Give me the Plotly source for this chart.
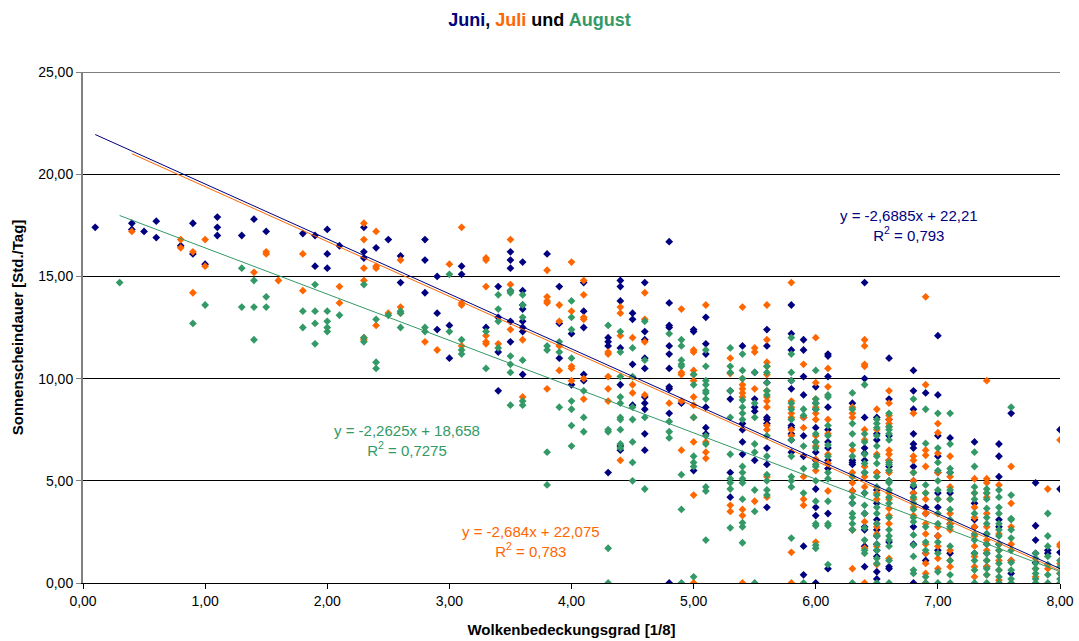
import plotly.graph_objects as go

# ---------------- data ----------------
juni_cols = [0.1, 0.4, 0.5, 0.6, 0.8, 0.9, 1.0, 1.1, 1.3, 1.4, 1.5, 1.8, 1.9, 2.0, 2.1, 2.3, 2.4, 2.5, 2.6, 2.8,
             2.9, 3.0, 3.1, 3.3, 3.4, 3.5, 3.6, 3.8, 3.9, 4.0, 4.1, 4.3, 4.4, 4.5, 4.6, 4.8, 4.9, 5.0, 5.1, 5.3,
             5.4, 5.5, 5.6, 5.8, 5.9, 6.0, 6.1, 6.3, 6.4, 6.5, 6.6, 6.8, 6.9, 7.0, 7.1, 7.3, 7.4, 7.5, 7.6, 7.8,
             7.9, 8.0]
juni_vals = [
    [17.4], [17.6, 17.3], [17.2], [17.7, 16.9], [16.5], [17.6, 16.1], [15.6], [17.9, 17.4, 17.0], [17.0], [17.8],
    [17.2], [17.1], [17.0, 15.5], [17.3, 16.1, 15.4], [16.5], [17.4, 16.2, 15.9], [16.4], [16.8], [16.0, 14.7],
    [16.8, 15.8, 14.2],
    [15.0, 13.2, 12.4], [12.6, 11.0], [15.5, 15.1], [12.5], [14.5, 13.0, 11.3, 9.4],
    [16.2, 15.8, 15.4, 14.3, 12.8, 11.8], [15.7, 14.3, 13.6, 13.4, 12.8, 12.5, 12.3, 10.2], [16.1],
    [14.5, 12.7, 11.0], [12.2, 9.7], [14.7, 13.3, 12.5, 10.2, 9.9], [12.0, 11.8, 11.6, 5.4],
    [14.8, 14.5, 13.8, 11.5, 9.7, 6.7, 6.5], [13.2, 12.9, 10.7, 8.7],
    [14.7, 12.3, 11.9, 11.0, 10.5, 9.1, 8.8, 8.5, 7.3, 6.5],
    [16.7, 13.7, 12.6, 12.5, 11.6, 11.2, 10.5, 9.6, 9.5, 8.3, 0.0], [8.8], [12.4, 12.3, 5.5],
    [13.0, 11.7, 11.2, 8.6, 7.6, 7.3], [9.4, 9.0, 5.4, 4.2],
    [11.6, 7.8, 7.5, 6.9, 6.3], [10.3, 9.0, 8.6, 8.4, 6.0], [12.4, 11.6, 9.8, 8.1, 8.0, 7.8, 6.6, 5.8, 3.7],
    [13.6, 12.2, 11.4, 9.9, 9.5, 7.7, 7.6, 7.3, 7.0, 6.4], [11.9, 11.4, 10.1, 9.2, 8.1, 7.2, 6.2, 1.8, 0.4],
    [9.6, 8.8, 8.5, 7.6, 6.9, 6.4, 6.0, 4.6, 3.7, 3.3, 0.0],
    [11.2, 11.1, 10.1, 8.6, 7.5, 6.9, 6.6, 6.0, 5.6, 3.4, 0.7], [8.8, 6.0, 5.9, 5.8, 4.5, 3.9, 2.6],
    [14.7, 10.0, 8.1, 6.6, 6.35, 6.0, 5.4, 4.4, 3.4, 2.75, 2.6, 1.8, 0.8],
    [8.1, 7.3, 7.0, 5.4, 4.55, 3.9, 3.1, 2.6, 2.3, 1.9, 1.6, 1.3, 0.55, 0.2],
    [11.0, 9.0, 8.0, 7.2, 6.0, 5.7, 5.0, 2.0, 0.8, 0.7],
    [10.4, 9.4, 8.5, 7.3, 6.8, 6.6, 5.7, 5.0, 4.7, 4.4, 2.75, 1.9, 0.0], [9.3, 3.7, 3.4, 1.45, 1.1],
    [12.1, 9.2, 7.2, 6.2, 5.4, 4.4, 3.7, 2.3, 1.6], [7.1, 5.4, 4.4, 2.9, 1.45], [6.9, 3.9, 3.1, 2.75, 1.45],
    [2.4, 1.9, 1.45, 0.8], [6.8, 6.2, 5.2, 3.1, 2.75, 1.9], [8.3, 1.1, 0.47], [4.9, 2.8, 2.1, 1.45, 1.0],
    [1.6, 1.45], [7.5, 4.6, 1.5],
]

juli_cols = [0.4, 0.8, 0.9, 1.0, 1.4, 1.5, 1.6, 1.8, 2.1, 2.3, 2.4, 2.5, 2.6, 2.8, 2.9, 3.0, 3.1, 3.3, 3.4, 3.5,
             3.6, 3.8, 3.9, 4.0, 4.1, 4.3, 4.4, 4.5, 4.6, 4.8, 4.9, 5.0, 5.1, 5.3, 5.4, 5.5, 5.6, 5.8, 5.9, 6.0,
             6.1, 6.3, 6.4, 6.5, 6.6, 6.8, 6.9, 7.0, 7.1, 7.3, 7.4, 7.5, 7.6, 7.8, 7.9, 8.0]
juli_vals = [
    [17.2], [16.8, 16.4], [16.2, 14.2], [16.8, 15.5], [15.2], [16.2, 16.1], [14.8], [16.1, 14.3], [14.5, 13.7],
    [17.6, 16.8, 15.4, 14.8, 12.0, 11.9], [17.2, 15.5, 15.4, 12.6], [13.2], [15.8, 13.5, 13.2], [11.8], [11.4],
    [15.6], [17.4, 13.7, 13.6, 11.6], [15.9, 15.8, 14.5, 12.1, 11.8, 11.7], [11.7], [16.8, 14.6, 12.4],
    [11.9, 9.1], [15.3, 14.0, 13.8, 13.7, 9.5], [13.6, 12.8, 11.6, 10.4], [15.7, 13.3, 10.6, 10.5, 9.9],
    [14.8, 14.1, 13.0, 12.9, 10.0, 9.0], [11.3, 11.2, 10.1, 9.5, 8.9], [13.5, 13.2, 12.1, 6.0], [12.0, 9.7, 9.3],
    [14.2, 12.9, 11.8, 9.2], [8.8], [13.4, 10.3, 10.2, 8.9, 6.5],
    [11.4, 11.3, 10.4, 10.2, 9.9, 9.1, 8.7, 8.1, 6.9, 4.3, 0.0], [13.6, 6.9, 6.4, 6.1], [11.0, 10.25, 3.8, 3.5],
    [13.5, 10.0, 9.7, 9.5, 9.3, 9.1, 3.6, 3.3, 0.0], [11.5, 11.3, 9.5, 4.0],
    [13.6, 11.9, 10.8, 10.6, 10.2, 9.4, 9.1, 8.9, 8.6, 7.7, 7.5, 5.2, 4.2],
    [14.7, 8.9, 8.6, 8.3, 8.1, 7.5, 7.2, 1.5, 0.0], [10.7, 8.1, 7.6, 5.2, 4.1, 3.8],
    [12.0, 9.8, 9.0, 8.6, 8.3, 8.0, 7.2, 6.7, 6.05, 5.5, 2.0], [10.5, 9.6, 8.0, 7.3, 6.3, 5.85, 4.5],
    [8.6, 8.3, 8.1, 6.5, 5.4, 4.9, 4.5, 2.6, 0.7], [11.9, 11.6, 10.7, 10.6, 7.5, 7.0, 5.7, 5.2, 4.7, 3.0, 1.7, 0.0],
    [8.5, 7.5, 6.3, 5.4, 4.4, 4.1, 2.9, 2.75, 2.4, 1.8, 0.9],
    [9.4, 8.8, 8.2, 8.0, 7.8, 7.65, 6.5, 6.3, 6.0, 5.5, 5.4, 4.4, 4.1, 3.65, 3.3, 2.9, 1.2],
    [8.3, 6.2, 6.0, 5.4, 5.0, 4.4, 4.1, 3.7, 3.3],
    [14.0, 9.7, 6.5, 6.25, 5.7, 4.4, 4.1, 3.4, 2.9, 2.4, 1.9, 1.45, 0.96, 0.47, 0.0],
    [7.8, 7.35, 6.35, 5.4, 4.1, 2.75, 2.3, 1.8, 1.2, 0.7], [6.2, 5.2, 4.7, 4.1, 3.4, 2.9, 2.6, 1.6, 1.1, 0.8],
    [5.1, 4.4, 3.7, 3.2, 2.75, 2.3, 1.8, 1.3, 0.8, 0.3], [9.9, 5.1, 4.9, 4.4, 4.2, 3.4, 2.75, 2.1, 1.6, 1.1, 0.8, 0.4],
    [4.8, 2.4, 1.6, 1.1, 0.63, 0.14], [5.7, 3.9, 2.75, 1.9, 1.1], [0.7, 0.3], [4.6, 0.7],
    [7.0, 1.9, 1.8, 0.96, 0.47],
]

august_cols = [0.3, 0.9, 1.0, 1.3, 1.4, 1.5, 1.8, 1.9, 2.0, 2.1, 2.3, 2.4, 2.5, 2.6, 2.8, 3.0, 3.1, 3.3, 3.4, 3.5,
               3.6, 3.8, 3.9, 4.0, 4.1, 4.3, 4.4, 4.5, 4.6, 4.8, 4.9, 5.0, 5.1, 5.3, 5.4, 5.5, 5.6, 5.8, 5.9, 6.0,
               6.1, 6.3, 6.4, 6.5, 6.6, 6.8, 6.9, 7.0, 7.1, 7.3, 7.4, 7.5, 7.6, 7.8, 7.9, 8.0]
august_vals = [
    [14.7], [12.7], [13.6], [15.4, 13.5], [14.8, 13.5, 11.9], [14.0, 13.5], [13.3, 12.5], [14.6, 13.3, 12.7, 11.7],
    [13.3, 12.8, 12.5, 12.3], [13.1], [14.6, 12.0, 11.8], [12.9, 10.8, 10.5], [13.1], [13.3, 13.2, 12.5],
    [12.5, 12.3], [15.1, 12.3], [11.9, 11.4, 11.2], [12.3, 10.5], [14.1, 13.4, 12.8, 11.5],
    [14.3, 14.2, 11.1, 10.7, 10.3, 8.7], [14.1, 13.6, 13.0, 10.9, 8.9, 8.7], [11.6, 11.4, 6.4, 4.8],
    [11.8, 11.3, 8.6], [13.8, 13.0, 12.4, 11.0, 8.9, 8.5, 7.7, 6.7], [9.4, 8.1, 7.4], [12.6, 7.5, 7.4, 1.7, 0.0],
    [12.3, 11.3, 10.1, 9.1, 8.8, 8.1, 8.0, 7.5, 6.8, 6.6], [11.5, 10.1, 8.6, 8.0, 6.9, 5.9, 5.0],
    [12.8, 10.9, 8.1, 4.6], [12.2, 7.9, 7.4, 7.1], [11.9, 11.6, 10.9, 10.7, 10.6, 5.3, 3.6, 0.0],
    [10.2, 9.7, 8.1, 6.2, 5.9, 5.7, 0.3], [11.4, 10.6, 9.9, 9.7, 9.4, 9.3, 9.0, 7.2, 6.8, 4.7, 4.5, 2.1],
    [11.5, 10.6, 10.3, 9.4, 8.1, 6.3, 5.1, 4.9, 4.6, 2.7],
    [11.2, 10.4, 10.0, 8.95, 8.6, 8.3, 8.0, 5.7, 5.4, 5.1, 4.9, 4.1, 2.95, 2.75, 1.97],
    [10.3, 8.8, 8.1, 6.8, 6.4, 4.55, 3.5, 0.0], [10.6, 10.3, 9.8, 9.4, 9.2, 7.2, 6.2, 5.3, 5.0, 4.55, 4.3],
    [12.0, 11.2, 10.3, 9.9, 8.8, 8.5, 8.0, 7.0, 6.2, 5.2, 5.0, 4.7, 2.2], [8.5, 8.2, 6.7, 5.6, 4.4, 0.0],
    [10.4, 9.0, 8.8, 8.5, 7.3, 6.9, 6.6, 5.8, 5.7, 5.0, 4.0, 2.9, 2.8, 1.85, 1.7],
    [9.2, 9.1, 7.7, 7.2, 6.75, 6.2, 5.4, 5.1, 4.0, 2.9, 2.8, 0.9],
    [9.3, 8.5, 7.8, 7.3, 6.75, 6.2, 5.2, 4.2, 3.9, 3.4, 3.2, 2.9, 2.6, 0.0],
    [9.7, 7.3, 6.9, 6.3, 5.85, 5.4, 4.4, 3.8, 3.4, 2.7, 2.1, 1.6, 1.45],
    [8.0, 7.8, 7.6, 7.2, 6.7, 6.2, 5.85, 5.2, 4.7, 4.3, 3.7, 3.4, 2.9, 2.3, 1.9, 1.6, 1.2, 0.96, 0.0],
    [8.3, 7.65, 7.5, 7.3, 7.0, 5.9, 5.8, 5.5, 5.0, 4.9, 4.55, 4.2, 3.9, 3.2, 2.6, 2.3, 2.1, 1.8, 1.1, 0.0],
    [9.0, 5.4, 4.8, 4.2, 3.9, 3.6, 3.2, 3.0, 2.35, 1.85, 1.3, 0.63, 0.47],
    [8.5, 6.83, 4.8, 4.4, 2.75, 2.0, 1.6, 0.3, 0.0],
    [8.3, 6.6, 5.9, 5.5, 5.0, 4.55, 4.1, 3.4, 2.9, 2.0, 1.45, 0.55, 0.0],
    [8.3, 6.8, 5.6, 5.4, 4.55, 4.1, 3.6, 3.1, 2.75, 1.8, 1.1, 0.4, 0.0],
    [6.4, 5.7, 4.7, 4.4, 4.1, 3.4, 2.4, 2.1, 1.45, 1.1, 0.63, 0.0],
    [4.6, 4.4, 4.1, 3.65, 3.2, 2.9, 2.4, 1.9, 1.45, 1.1, 0.7, 0.4, 0.0],
    [4.55, 4.2, 3.7, 3.4, 2.9, 2.6, 2.3, 1.9, 1.6, 1.3, 0.96, 0.63, 0.3, 0.0],
    [8.6, 4.3, 3.15, 3.1, 2.6, 2.2, 1.6, 1.0, 0.63, 0.2, 0.0], [1.45, 1.2, 0.96, 0.7, 0.47, 0.2, 0.0],
    [3.4, 2.3, 1.8, 1.3, 0.9, 0.4, 0.0], [1.1, 0.8, 0.47, 0.2, 0.0],
]

# linear trend lines as printed on the chart: slope, intercept, x-range
trend_names = ["Juni", "Juli", "August"]
trend_slope = [-2.6885, -2.684, -2.2625]
trend_intercept = [22.21, 22.075, 18.658]
trend_xstart = [0.1, 0.4, 0.3]
trend_xend = [8.0, 8.0, 8.0]
trend_labels = ["y = -2,6885x + 22,21<br>R<sup>2</sup> = 0,793",
                "y = -2,684x + 22,075<br>R<sup>2</sup> = 0,783",
                "y = -2,2625x + 18,658<br>R<sup>2</sup> = 0,7275"]
label_pos_x = [6.76, 3.67, 2.65]
label_pos_y = [17.5, 2.05, 6.95]

x_ticks = [0, 1, 2, 3, 4, 5, 6, 7, 8]
y_ticks = [0, 5, 10, 15, 20, 25]

colors = ["#000080", "#FF6600", "#339966"]


def flatten(cols, vals):
    xs, ys = [], []
    for c, v in zip(cols, vals):
        for y in v:
            xs.append(c)
            ys.append(y)
    return xs, ys


series = [flatten(juni_cols, juni_vals), flatten(juli_cols, juli_vals), flatten(august_cols, august_vals)]

fig = go.Figure()
for (xs, ys), name, col in zip(series, trend_names, colors):
    fig.add_trace(go.Scatter(x=xs, y=ys, mode="markers", name=name,
                             marker=dict(symbol="diamond", size=6, color=col, line=dict(width=0))))

for i, col in enumerate(colors):
    xs = [trend_xstart[i], trend_xend[i]]
    ys = [trend_slope[i] * x + trend_intercept[i] for x in xs]
    fig.add_trace(go.Scatter(x=xs, y=ys, mode="lines", line=dict(color=col, width=1),
                             hoverinfo="skip", showlegend=False))
    fig.add_annotation(x=label_pos_x[i], y=label_pos_y[i], text=trend_labels[i], showarrow=False,
                       align="center", font=dict(family="Liberation Sans, Arial", size=15, color=col))

# top gridline (value of the highest y tick) that plotly omits at the range edge
fig.add_shape(type="line", xref="paper", x0=0, x1=1, yref="y", y0=y_ticks[-1], y1=y_ticks[-1],
              line=dict(color="#000000", width=1), layer="below")

title_text = ("<b><span style='color:#000080'>Juni</span>, <span style='color:#FF6600'>Juli</span> "
              "und <span style='color:#339966'>August</span></b>")

fig.update_layout(
    width=1079, height=641,
    margin=dict(l=83, r=19, t=72, b=58),
    paper_bgcolor="white", plot_bgcolor="white",
    separators=",.",
    showlegend=False,
    font=dict(family="Liberation Sans, Arial", size=14, color="#000000"),
    title=dict(text=title_text, x=0.5, xref="container", xanchor="center", y=0.97, yref="container",
               yanchor="middle", font=dict(size=18, family="Liberation Sans, Arial")),
)
fig.update_xaxes(range=[0, 8], tickvals=x_ticks, tickformat=".2f", showgrid=False, zeroline=False,
                 showline=True, linecolor="#000000", linewidth=1, ticks="outside", ticklen=5,
                 tickcolor="#000000", tickfont=dict(size=14), automargin=False,
                 title=dict(text="<b>Wolkenbedeckungsgrad [1/8]</b>", font=dict(size=15), standoff=16))
fig.update_yaxes(range=[0, 25], tickvals=y_ticks, tickformat=".2f", showgrid=True, gridcolor="#000000",
                 gridwidth=1, zeroline=False, showline=True, linecolor="#808080", linewidth=2,
                 ticks="outside", ticklen=5, tickcolor="#808080", tickfont=dict(size=14), automargin=False,
                 title=dict(text="<b>Sonnenscheindauer [Std./Tag]</b>", font=dict(size=15), standoff=11))

fig.write_html("out.html")
